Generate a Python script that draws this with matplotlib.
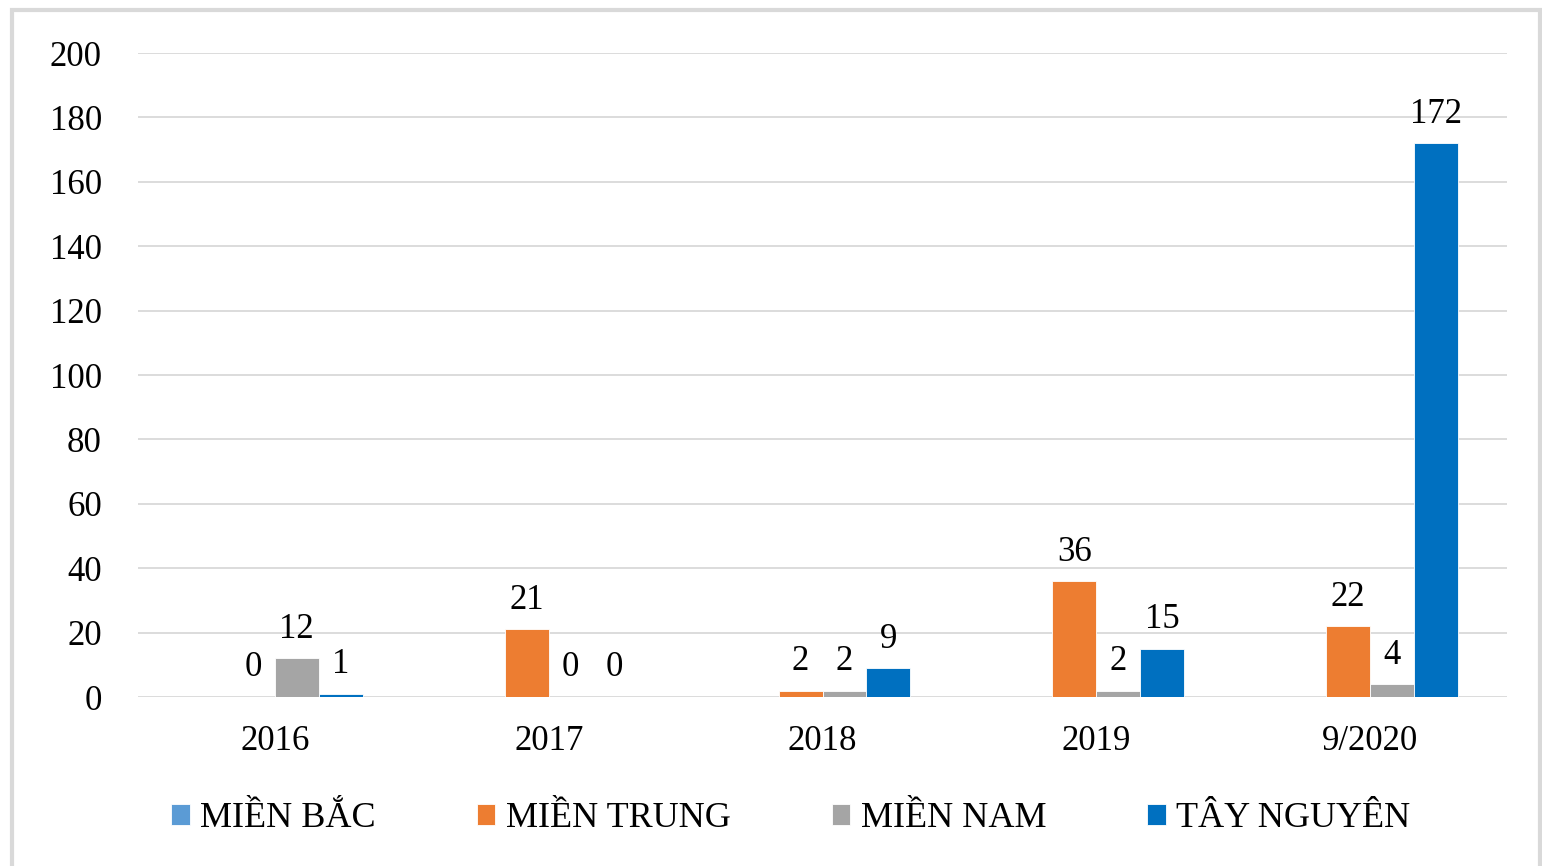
import numpy as np
import matplotlib.pyplot as plt
from matplotlib.patches import Rectangle

years = ["2016", "2017", "2018", "2019", "9/2020"]
series = ["MIỀN BẮC", "MIỀN TRUNG", "MIỀN NAM", "TÂY NGUYÊN"]
mien_bac = [np.nan, np.nan, np.nan, np.nan, np.nan]
mien_trung = [0, 21, 2, 36, 22]
mien_nam = [12, 0, 2, 2, 4]
tay_nguyen = [1, 0, 9, 15, 172]
colors = ["#5B9BD5", "#ED7D31", "#A5A5A5", "#0070C0"]

plt.rcParams['font.family'] = ['Liberation Serif', 'DejaVu Serif']

fig = plt.figure(figsize=(15.42, 8.66), dpi=100)
ax = fig.add_axes([138/1542, 1-697/866, (1507-138)/1542, (697-53)/866])

x = np.arange(len(years))
w = 0.16
data = [mien_bac, mien_trung, mien_nam, tay_nguyen]
for i, (vals, name, c) in enumerate(zip(data, series, colors)):
    pos = x + (i - 1.5) * w
    ax.bar(pos, vals, w, color=c, label=name, edgecolor="white", linewidth=0.6)
    for p, v in zip(pos, vals):
        if np.isnan(v):
            continue
        ax.annotate(str(v), (p, v), xytext=(0, 9), textcoords="offset points",
                    ha="center", va="bottom", fontsize=25, color="black")

ax.set_xlim(-0.5, 4.5)
ax.set_ylim(0, 200)
ax.set_yticks(range(0, 201, 20))
ax.set_xticks(x)
ax.set_xticklabels(years)
ax.tick_params(axis="both", length=0, labelsize=25, colors="black")
ax.tick_params(axis="y", pad=26)
ax.tick_params(axis="x", pad=20)
ax.grid(axis="y", color="#D9D9D9", linewidth=1.3)
ax.set_axisbelow(True)
for s in ax.spines.values():
    s.set_visible(False)

fig.legend(loc="lower center", bbox_to_anchor=(0.513, -0.002), ncol=4, frameon=False,
           fontsize=26, handlelength=0.5, handleheight=0.5, handletextpad=0.3,
           columnspacing=2.8)

fig.patches.append(Rectangle((12/1542, -0.01), (1540-12)/1542, 1-10/866+0.01,
                             transform=fig.transFigure, fill=False,
                             edgecolor="#D9D9D9", linewidth=3))

plt.savefig("out.png", dpi=100)
